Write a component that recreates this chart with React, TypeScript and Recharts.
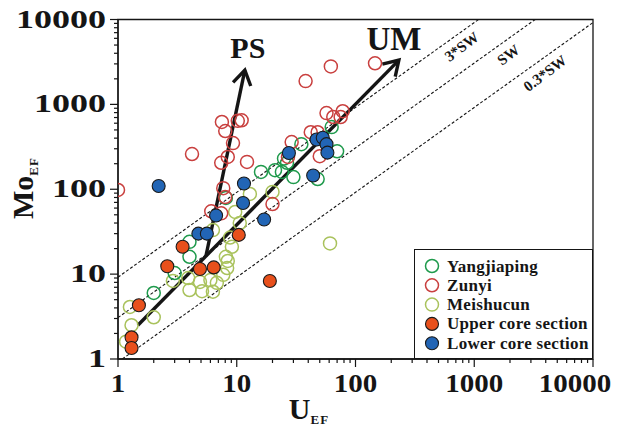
import { ScatterChart, Scatter, XAxis, YAxis, ReferenceLine, ReferenceArea, ReferenceDot } from "recharts"

const FONT = '"Liberation Serif", "Times New Roman", serif'
const INK = "#151515"

// decade ticks (labelled) on both log axes
const decadeTicks = [1, 10, 100, 1000, 10000]
const minorSteps = [1, 2, 3, 4, 5, 6, 7, 8, 9]
const axisTicks = [...decadeTicks.slice(0, 4).flatMap((d) => minorSteps.map((m) => d * m)), 10000]

// U_EF / Mo_EF, one pair of arrays per group
const yangjiapingU = [35, 63, 70, 16, 21, 24, 26.5, 30, 48, 8.1, 4.0, 4.0, 3.0, 2.0, 25]
const yangjiapingMo = [340, 540, 280, 160, 168, 160, 205, 139, 132, 79, 24, 16, 10.3, 6.0, 230]

const zunyiU = [1, 4.2, 7.5, 10.2, 8.0, 9.3, 8.4, 7.4, 12.2, 11, 38, 62, 146, 57, 65, 75, 78, 42, 48, 29, 50, 27, 7.7, 8.0, 6.1, 7.4, 20]
const zunyiMo = [98, 260, 620, 640, 485, 350, 240, 205, 210, 650, 1880, 2800, 3050, 790, 710, 710, 830, 470, 470, 360, 245, 240, 103, 81, 55, 52, 67]

const meishucunU = [1.26, 1.3, 1.17, 2.0, 2.9, 3.9, 4.0, 4.9, 5.1, 6.0, 6.3, 6.8, 7.7, 8.3, 8.4, 9.1, 9.7, 10.6, 12.9, 20, 61, 6.3, 8.8, 8.1]
const meishucunMo = [4.1, 2.5, 1.6, 3.1, 8.3, 9.0, 6.5, 8.1, 6.3, 8.5, 6.2, 7.9, 9.8, 11.8, 14.3, 21, 54, 40, 88, 93, 23, 33, 27, 16]

const upperU = [1.5, 1.3, 1.3, 3.5, 2.6, 4.9, 6.4, 10.4, 19]
const upperMo = [4.3, 1.8, 1.35, 21, 12.4, 11.5, 12, 29, 8.3]

const lowerU = [2.2, 11.5, 11.3, 17, 4.75, 5.6, 6.7, 27.5, 44, 47, 53, 57, 58]
const lowerMo = [109, 117, 69, 44, 30, 30, 49, 267, 145, 385, 405, 340, 270]

// seawater Mo/U lines
const swRatios = [9.2, 3.07, 0.92]
const swLabels = ["3*SW", "SW", "0.3*SW"]
const swLabelU = [784, 1936, 3945]
const swLabelMo = [4770, 3810, 2317]

// trend arrows
const umArrow = [{ x: 1.47, y: 2.5 }, { x: 232, y: 3320 }]
const psArrow = [{ x: 5.5, y: 16.3 }, { x: 11.7, y: 2535 }]

const zip = (u: number[], mo: number[]) => u.map((x, i) => ({ x, y: mo[i] }))

const groups = [
  { name: "Meishucun", data: zip(meishucunU, meishucunMo), stroke: "#a9c25c", fill: "none" },
  { name: "Yangjiaping", data: zip(yangjiapingU, yangjiapingMo), stroke: "#1f9a4c", fill: "none" },
  { name: "Zunyi", data: zip(zunyiU, zunyiMo), stroke: "#c9403f", fill: "none" },
  { name: "Upper core section", data: zip(upperU, upperMo), stroke: "#1a1a1a", fill: "#e8501c" },
  { name: "Lower core section", data: zip(lowerU, lowerMo), stroke: "#1a1a1a", fill: "#2265b5" },
]
const legendOrder = ["Yangjiaping", "Zunyi", "Meishucun", "Upper core section", "Lower core section"]

const dot = (stroke: string, fill: string) => (p: any) => (
  <circle cx={p.cx} cy={p.cy} r={6.5} stroke={stroke} strokeWidth={fill === "none" ? 1.5 : 1.1} fill={fill} />
)

function XTick({ x, y, payload }: any) {
  const v = payload.value
  const major = decadeTicks.includes(v)
  const w = String(v).length * 14.5
  return (
    <g>
      <line x1={x} x2={x} y1={y} y2={y + (major ? 8 : 4)} stroke={INK} strokeWidth={1.2} />
      {major && (
        <text
          x={v === 10000 ? x - 18 : x}
          y={y + 33}
          textAnchor="middle"
          textLength={w}
          lengthAdjust="spacingAndGlyphs"
          fontFamily={FONT}
          fontWeight="bold"
          fontSize={26}
          fill={INK}
        >
          {v}
        </text>
      )}
    </g>
  )
}

function YTick({ x, y, payload }: any) {
  const v = payload.value
  const major = decadeTicks.includes(v)
  const w = String(v).length * 18
  return (
    <g>
      <line x1={x - (major ? 8 : 4)} x2={x} y1={y} y2={y} stroke={INK} strokeWidth={1.2} />
      {major && (
        <text
          x={x - 12 - w}
          y={y + 8}
          textLength={w}
          lengthAdjust="spacingAndGlyphs"
          fontFamily={FONT}
          fontWeight="bold"
          fontSize={26}
          fill={INK}
        >
          {v}
        </text>
      )}
    </g>
  )
}

function Arrow(p: any) {
  const { x1, y1, x2, y2 } = p
  const a = Math.atan2(y2 - y1, x2 - x1)
  const len = 17
  const s = 0.56
  const l = [x2 - len * Math.cos(a - s), y2 - len * Math.sin(a - s)]
  const r = [x2 - len * Math.cos(a + s), y2 - len * Math.sin(a + s)]
  return (
    <g stroke={INK} strokeWidth={3.4} fill="none">
      <line x1={x1} y1={y1} x2={x2} y2={y2} />
      <polyline points={`${l[0]},${l[1]} ${x2},${y2} ${r[0]},${r[1]}`} strokeLinejoin="miter" />
    </g>
  )
}

const textDot = (label: string, size: number, angle = 0) => (p: any) => (
  <text
    x={p.cx}
    y={p.cy}
    transform={angle ? `rotate(${angle}, ${p.cx}, ${p.cy})` : undefined}
    textAnchor="middle"
    dominantBaseline="central"
    fontFamily={FONT}
    fontWeight="bold"
    fontSize={size}
    fill={INK}
  >
    {label}
  </text>
)

const xTitle = () => (
  <text x={309} y={419} textAnchor="middle" fontFamily={FONT} fontWeight="bold" fontSize={30} fill={INK}>
    U<tspan fontSize={13} dy={5} letterSpacing={1}>EF</tspan>
  </text>
)

const yTitle = () => (
  <text x={33} y={188} transform="rotate(-90, 33, 188)" textAnchor="middle" fontFamily={FONT} fontWeight="bold" fontSize={30} fill={INK}>
    Mo<tspan fontSize={13} dy={5} letterSpacing={1}>EF</tspan>
  </text>
)

function Legend() {
  return (
    <div style={{ position: "absolute", left: 414, top: 249, width: 179, height: 110, background: "#fff", border: `1.3px solid ${INK}`, boxSizing: "border-box" }}>
      <svg width={177} height={108} style={{ fontFamily: FONT }}>
        {legendOrder.map((name, i) => {
          const g = groups.find((k) => k.name === name)!
          const cy = 16 + i * 19.3
          return (
            <g key={name}>
              <circle cx={17} cy={cy} r={6.5} stroke={g.stroke} strokeWidth={g.fill === "none" ? 1.5 : 1.1} fill={g.fill} />
              <text x={32} y={cy + 5.5} style={{ fontFamily: FONT }} fontWeight="bold" fontSize={17} fill={INK} letterSpacing={0.3}>
                {name}
              </text>
            </g>
          )
        })}
      </svg>
    </div>
  )
}

export default function App() {
  return (
    <div style={{ position: "absolute", left: 0, top: 0, width: 622, height: 429, background: "#fff" }}>
      <ScatterChart width={622} height={429} margin={{ top: 19.5, right: 29, bottom: 0, left: 0 }}>
        <XAxis
          type="number"
          dataKey="x"
          scale="log"
          domain={[1, 10000]}
          allowDataOverflow
          ticks={axisTicks}
          interval={0}
          tickSize={0}
          tickMargin={0}
          tickLine={false}
          tick={<XTick />}
          axisLine={{ stroke: INK, strokeWidth: 1.3 }}
          height={70}
          label={xTitle}
        />
        <YAxis
          type="number"
          dataKey="y"
          scale="log"
          domain={[1, 10000]}
          allowDataOverflow
          ticks={axisTicks}
          interval={0}
          tickSize={0}
          tickMargin={0}
          tickLine={false}
          tick={<YTick />}
          axisLine={{ stroke: INK, strokeWidth: 1.3 }}
          width={118}
          label={yTitle}
        />
        <ReferenceArea x1={1} x2={10000} y1={1} y2={10000} fill="none" stroke={INK} strokeWidth={1.3} ifOverflow="visible" />
        {swRatios.map((k) => (
          <ReferenceLine
            key={k}
            segment={k >= 1 ? [{ x: 1, y: k }, { x: 10000 / k, y: 10000 }] : [{ x: 1 / k, y: 1 }, { x: 10000, y: 10000 * k }]}
            stroke={INK}
            strokeWidth={1.1}
            strokeDasharray="3 2"
            ifOverflow="hidden"
          />
        ))}
        {swLabels.map((t, i) => (
          <ReferenceDot key={t} x={swLabelU[i]} y={swLabelMo[i]} ifOverflow="visible" shape={textDot(t, 15, -37)} />
        ))}
        {groups.map((g) => (
          <Scatter key={g.name} name={g.name} data={g.data} isAnimationActive={false} shape={dot(g.stroke, g.fill)} />
        ))}
        <ReferenceLine segment={umArrow} ifOverflow="visible" shape={Arrow} />
        <ReferenceLine segment={psArrow} ifOverflow="visible" shape={Arrow} />
        <ReferenceDot x={12.4} y={4730} ifOverflow="visible" shape={textDot("PS", 30)} />
        <ReferenceDot x={211} y={5880} ifOverflow="visible" shape={textDot("UM", 33)} />
      </ScatterChart>
      <Legend />
    </div>
  )
}
